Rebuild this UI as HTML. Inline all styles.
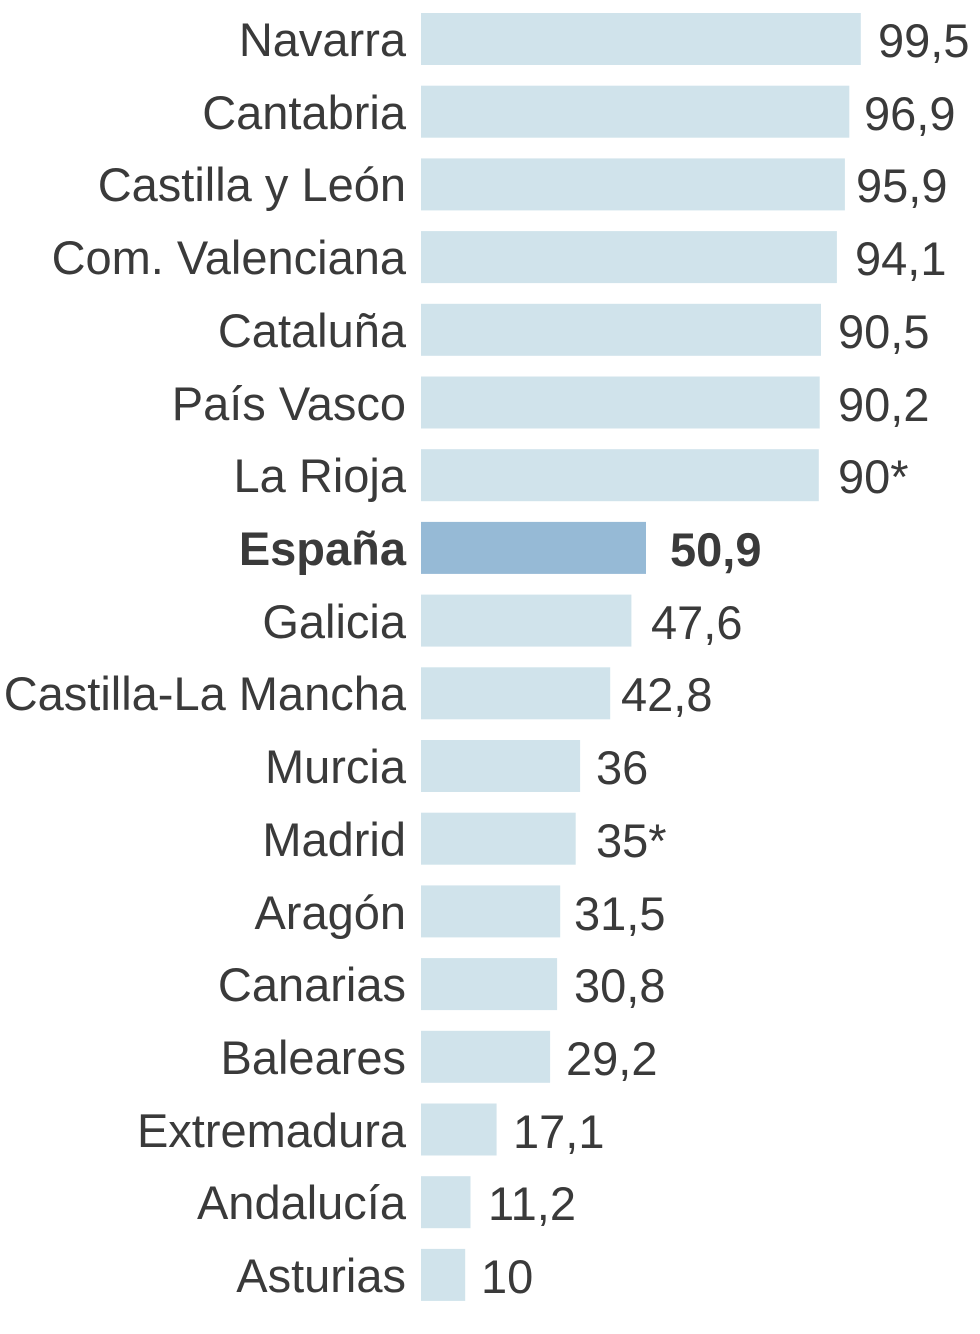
<!DOCTYPE html>
<html><head><meta charset="utf-8"><style>html,body{margin:0;padding:0;background:#fff}svg{display:block}</style></head>
<body>
<svg width="980" height="1334" xmlns="http://www.w3.org/2000/svg" font-family="Liberation Sans, sans-serif" font-size="47" fill="#3a3a3a">
<g fill="#d0e3eb">
<rect x="421" y="13" width="439.8" height="52"/>
<rect x="421" y="85.7" width="428.3" height="52"/>
<rect x="421" y="158.4" width="423.9" height="52"/>
<rect x="421" y="231.1" width="415.9" height="52"/>
<rect x="421" y="303.8" width="400" height="52"/>
<rect x="421" y="376.5" width="398.7" height="52"/>
<rect x="421" y="449.2" width="397.8" height="52"/>
<rect x="421" y="594.6" width="210.4" height="52"/>
<rect x="421" y="667.3" width="189.2" height="52"/>
<rect x="421" y="740" width="159.1" height="52"/>
<rect x="421" y="812.7" width="154.7" height="52"/>
<rect x="421" y="885.4" width="139.2" height="52"/>
<rect x="421" y="958.1" width="136.1" height="52"/>
<rect x="421" y="1030.8" width="129.1" height="52"/>
<rect x="421" y="1103.5" width="75.6" height="52"/>
<rect x="421" y="1176.2" width="49.5" height="52"/>
<rect x="421" y="1248.9" width="44.2" height="52"/>
</g>
<rect x="421" y="521.9" width="225" height="52" fill="#96bad6"/>
<g text-anchor="end">
<text x="406" y="56">Navarra</text>
<text x="406" y="129">Cantabria</text>
<text x="406" y="201">Castilla y León</text>
<text x="406" y="274">Com. Valenciana</text>
<text x="406" y="347">Cataluña</text>
<text x="406" y="420">País Vasco</text>
<text x="406" y="492">La Rioja</text>
<text x="406" y="565" font-weight="bold">España</text>
<text x="406" y="638">Galicia</text>
<text x="406" y="710">Castilla-La Mancha</text>
<text x="406" y="783">Murcia</text>
<text x="406" y="856">Madrid</text>
<text x="406" y="929">Aragón</text>
<text x="406" y="1001">Canarias</text>
<text x="406" y="1074">Baleares</text>
<text x="406" y="1147">Extremadura</text>
<text x="406" y="1219">Andalucía</text>
<text x="406" y="1292">Asturias</text>
</g>
<g>
<text x="878" y="57">99,5</text>
<text x="864" y="130">96,9</text>
<text x="856" y="202">95,9</text>
<text x="855" y="275">94,1</text>
<text x="838" y="348">90,5</text>
<text x="838" y="421">90,2</text>
<text x="838" y="493">90*</text>
<text x="670" y="566" font-weight="bold">50,9</text>
<text x="651" y="639">47,6</text>
<text x="621" y="711">42,8</text>
<text x="596" y="784">36</text>
<text x="596" y="857">35*</text>
<text x="574" y="930">31,5</text>
<text x="574" y="1002">30,8</text>
<text x="566" y="1075">29,2</text>
<text x="513" y="1148">17,1</text>
<text x="488" y="1220">11,2</text>
<text x="481" y="1293">10</text>
</g>
</svg>
</body></html>
